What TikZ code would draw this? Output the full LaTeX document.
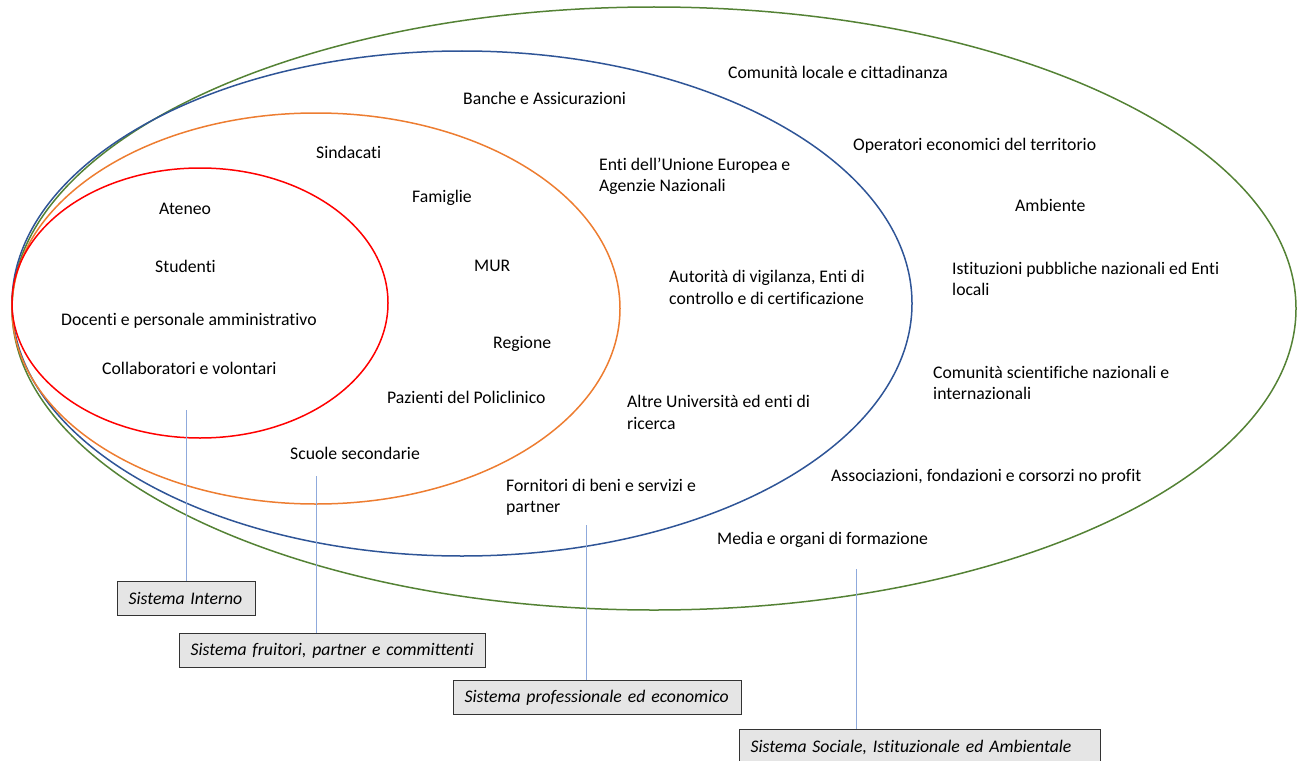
\documentclass[tikz,border=0pt]{standalone}
\usepackage{fontspec}
\setmainfont{Carlito}[Ligatures={NoCommon}]
\begin{document}
\begin{tikzpicture}[x=1pt,y=-1pt,
  lbl/.style={anchor=west,align=left,inner sep=0pt,font=\fontsize{17.7}{21.5}\selectfont},
  ring/.style={line width=1.5pt},
  sysbox/.style={draw=black!80,line width=1.1pt,fill=black!10,anchor=north west,
     minimum height=34pt,inner xsep=11pt,inner ysep=0pt,align=left,
     font=\fontsize{17.7}{20}\selectfont\itshape},
  link/.style={draw={rgb,255:red,143;green,170;blue,220},line width=0.8pt}]
\definecolor{cred}{HTML}{FF0000}
\definecolor{corange}{HTML}{ED7D31}
\definecolor{cblue}{HTML}{2F5597}
\definecolor{cgreen}{HTML}{548235}
\useasboundingbox (0,0) rectangle (1303,760);
\begin{scope}
\clip (0,0) rectangle (1303,760);
% ellipses
\draw[ring,cgreen] (654,308.5) ellipse [x radius=642,y radius=301.5];
\draw[ring,cblue] (462,303.5) ellipse [x radius=450,y radius=252.5];
\draw[ring,corange] (316,308.5) ellipse [x radius=304,y radius=195.5];
\draw[ring,cred] (200,303) ellipse [x radius=188,y radius=135];
% labels
\node[lbl] (t1) at (728,72) {Comunità locale e cittadinanza};
\node[lbl] (t2) at (463,98) {Banche e Assicurazioni};
\node[lbl] (t3) at (853,146) {Operatori economici del territorio};
\node[lbl] (t4) at (316,152) {Sindacati};
\node[lbl] (t5) at (599,176.5) {Enti dell’Unione Europea e\\Agenzie Nazionali};
\node[lbl] (t6) at (412,198) {Famiglie};
\node[lbl] (t7) at (1015,205) {Ambiente};
\node[lbl] (t8) at (159,209) {Ateneo};
\node[lbl] (t9) at (155,266) {Studenti};
\node[lbl] (t10) at (474,266) {MUR};
\node[lbl] (t11) at (669,287.5) {Autorità di vigilanza, Enti di\\controllo e di certificazione};
\node[lbl] (t12) at (952,279) {Istituzioni pubbliche nazionali ed Enti\\locali};
\node[lbl] (t13) at (61,321) {Docenti e personale amministrativo};
\node[lbl] (t14) at (493,344) {Regione};
\node[lbl] (t15) at (102,368) {Collaboratori e volontari};
\node[lbl] (t16) at (933,383) {Comunità scientifiche nazionali e\\internazionali};
\node[lbl] (t17) at (387,397) {Pazienti del Policlinico};
\node[lbl] (t18) at (627,412.5) {Altre Università ed enti di\\ricerca};
\node[lbl] (t19) at (290,453) {Scuole secondarie};
\node[lbl] (t20) at (831,477) {Associazioni, fondazioni e corsorzi no profit};
\node[lbl] (t21) at (506,497.5) {Fornitori di beni e servizi e\\partner};
\node[lbl] (t22) at (717,540) {Media e organi di formazione};
% boxes
\node[sysbox,text width=116pt] (b1) at (117,581) {Sistema Interno};
\node[sysbox,text width=284pt] (b2) at (179,633) {Sistema fruitori, partner e committenti};
\node[sysbox,text width=266pt] (b3) at (453,680) {Sistema professionale ed economico};
\node[sysbox,text width=339pt,minimum height=36pt] (b4) at (739,729) {Sistema Sociale, Istituzionale ed Ambientale};
% connectors
\coordinate (c1) at (186,410);
\coordinate (c2) at (316,476);
\coordinate (c3) at (586,525);
\coordinate (c4) at (856,569);
\draw[link] (c1) -- (c1 |- b1.north);
\draw[link] (c2) -- (c2 |- b2.north);
\draw[link] (c3) -- (c3 |- b3.north);
\draw[link] (c4) -- (c4 |- b4.north);
\end{scope}
\end{tikzpicture}
\end{document}
